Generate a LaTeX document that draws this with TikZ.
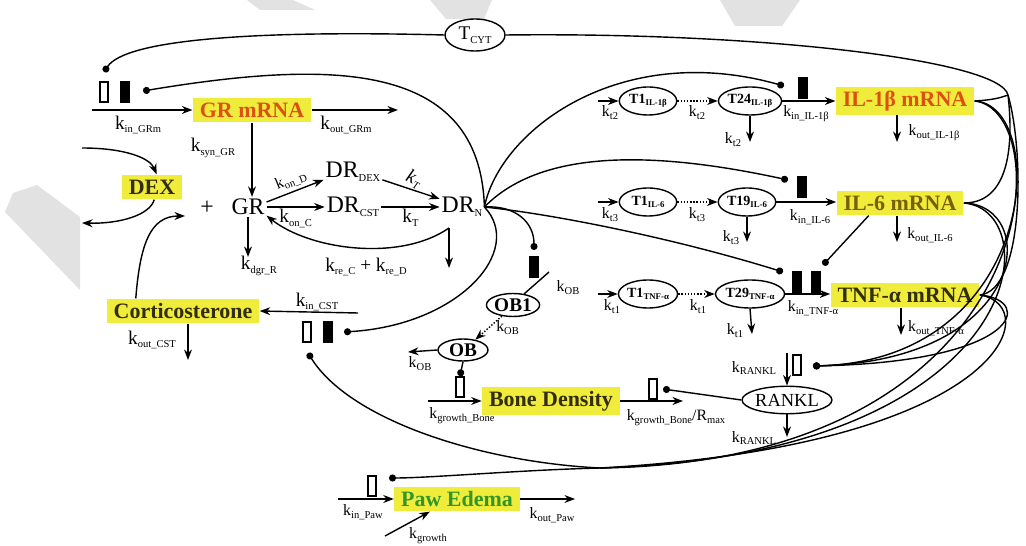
\documentclass[tikz,border=0pt]{standalone}
\usepackage{fontspec}
\setmainfont{Liberation Serif}
\usetikzlibrary{arrows.meta,shapes.geometric}

\definecolor{boxyellow}{RGB}{240,236,60}
\definecolor{txtorange}{RGB}{220,80,20}
\definecolor{txtolive}{RGB}{120,95,10}
\definecolor{txtdark}{RGB}{50,45,10}
\definecolor{txtgreen}{RGB}{50,150,40}
\definecolor{wmark}{RGB}{226,226,226}

\newcommand{\lowtxt}[1]{\raisebox{-0.4ex}{\fontsize{6}{6}\selectfont #1}}
\newcommand{\tinysub}[1]{\raisebox{-0.35ex}{\fontsize{5}{5}\selectfont #1}}

\tikzset{
  box/.style={fill=boxyellow, inner xsep=4pt, inner ysep=2pt, minimum height=14pt, font=\fontsize{12.5}{14}\selectfont\bfseries},
  spc/.style={inner sep=1pt, font=\fontsize{13.5}{15}\selectfont},
  rate/.style={inner sep=1pt, font=\fontsize{11}{12}\selectfont},
  srate/.style={inner sep=1pt, font=\fontsize{9}{10}\selectfont},
  stim/.style={draw, line width=0.8pt, minimum width=4.5pt, minimum height=11.5pt, inner sep=0pt},
  inhib/.style={fill=black, minimum width=6pt, minimum height=12pt, inner sep=0pt},
  trans/.style={draw, ellipse, line width=0.8pt, minimum width=1.15cm, minimum height=0.56cm, inner sep=0pt, font=\fontsize{8}{9}\selectfont\bfseries},
  flow/.style={-{Stealth[length=6pt,width=4.5pt]}, line width=0.8pt},
  act/.style={-{Circle[length=4pt]}, line width=0.8pt},
  wire/.style={line width=0.8pt},
}

\begin{document}
\begin{tikzpicture}[x=0.02cm,y=-0.02cm]
\useasboundingbox (0,0) rectangle (1026,546);

% faint marks behind the scheme
\fill[wmark] (5,212) -- (13,193) -- (37,185) -- (80,217) -- (80,290) -- cycle;
\fill[wmark] (247,0) -- (293,0) -- (315,10) -- (260,10) -- cycle;
\fill[wmark] (430,0) -- (492,0) -- (484,19) -- (446,19) -- cycle;
\fill[wmark] (720,0) -- (800,0) -- (782,26) -- (735,26) -- cycle;

% T cyt
\node[trans, minimum width=1.2cm, minimum height=0.64cm, font=\fontsize{11}{12}\selectfont] (Tcyt) at (475,35) {T\lowtxt{CYT}};

% GR mRNA
\node[stim] (sGRm) at (104,92) {};
\node[inhib] (iGRm) at (125,92) {};
\coordinate (dGRtop) at (104,72);
\coordinate (dGRm) at (143,91);
\node[box, text=txtorange] (GRm) at (252,110) {GR mRNA};
\coordinate (inGRm) at (92,110);
\coordinate (outGRm) at (398,110);
\draw[flow] (inGRm) -- (GRm);
\draw[flow] (GRm) -- (outGRm);
\node[rate] (lkinGRm) at (138,125) {k\lowtxt{in\_GRm}};
\node[rate] (lkoutGRm) at (346,125) {k\lowtxt{out\_GRm}};
\node[rate] (lksyn) at (213,148) {k\lowtxt{syn\_GR}};

% DEX, GR, receptor complexes
\node[box, text=txtdark] (DEX) at (152,187) {DEX};
\coordinate (dexIn) at (82,148);
\coordinate (dexOut) at (82,223);
\draw[flow] (dexIn) .. controls (125,148) and (150,158) .. (DEX.70);
\draw[flow] (DEX.-80) .. controls (150,215) and (120,224) .. (dexOut);
\node[spc] (plus) at (207,208) {+};
\node[spc] (GR) at (248,207) {GR};
\node[spc] (DRdex) at (353,172) {DR\lowtxt{DEX}};
\node[spc] (DRcst) at (353,207) {DR\lowtxt{CST}};
\node[spc] (DRn) at (462,207) {DR\lowtxt{N}};
\draw[flow] (GRm.south) -- (GRm.south |- GR.north);
\draw[flow] (GR.15) -- (DRdex.195);
\node[srate, rotate=22] (lkonD) at (291,181) {k\lowtxt{on\_D}};
\draw[flow] (GR.east) -- node[rate, below] (lkonC) {k\lowtxt{on\_C}} (DRcst.west);
\draw[flow] (DRcst.east) -- node[rate, below] (lkT) {k\lowtxt{T}} (DRn.west);
\draw[flow] (DRdex.-15) -- (DRn.160);
\node[rate, rotate=-25] (lkTi) at (414,179) {\textit{k}\lowtxt{\textit{T}}};
\coordinate (reC) at (449,228);
\coordinate (reEnd) at (449,268);
\draw[flow] (reC) .. controls (400,262) and (310,250) .. (GR.-25);
\draw[flow] (reC) -- (reEnd);
\node[rate] (lkre) at (366,267) {k\lowtxt{re\_C} + k\lowtxt{re\_D}};
\coordinate (dgrEnd) at (248,257);
\draw[flow] (GR.south) -- (dgrEnd);
\node[rate] (lkdgr) at (259,266) {k\lowtxt{dgr\_R}};

% corticosterone
\node[box, text=txtdark] (Cort) at (183,311) {Corticosterone};
\coordinate (toGR) at (185,216);
\draw[flow] (Cort.165) .. controls (140,245) and (150,216) .. (toGR);
\coordinate (inCst) at (358,313);
\draw[flow] (inCst) -- (Cort.east);
\node[rate] (lkinCst) at (317,302) {k\lowtxt{in\_CST}};
\coordinate (outCst) at (188,360);
\draw[flow] (Cort.south -| outCst) -- (outCst);
\node[rate] (lkoutCst) at (152,340) {k\lowtxt{out\_CST}};
\node[stim] (sCst) at (307,332) {};
\node[inhib] (iCst) at (328,332) {};
\coordinate (dCst) at (344,332);
\coordinate (dCstB) at (308,353);

% osteoblasts
\node[inhib] (iOB) at (534,267) {};
\coordinate (dOB) at (534,250);
\node[trans, minimum width=1.06cm, minimum height=0.46cm, font=\fontsize{11}{12}\selectfont\bfseries] (OB1) at (513,305) {OB1};
\node[trans, minimum width=1.0cm, minimum height=0.44cm, font=\fontsize{11}{12}\selectfont\bfseries] (OB) at (463,350) {OB};
\coordinate (kOBend) at (549,272);
\draw[wire] (OB1.45) -- (kOBend);
\node[srate] (lkOB1) at (568,288) {k\lowtxt{OB}};
\draw[flow, densely dotted] (OB1.225) -- node[srate, right=3pt] (lkOB2) {k\lowtxt{OB}} (OB.40);
\coordinate (outOB) at (408,352);
\draw[flow] (OB.west) -- (outOB);
\node[srate] (lkOB3) at (420,364) {k\lowtxt{OB}};

% bone density
\node[stim] (sBone) at (460,387) {};
\draw[act] (OB.south) -- (sBone.north);
\node[box, text=txtdark] (Bone) at (551,401) {Bone Density};
\coordinate (inBone) at (428,401);
\draw[flow] (inBone) -- (Bone.west);
\node[srate] (lkgB) at (462,416) {k\lowtxt{growth\_Bone}};
\coordinate (outBone) at (683,401);
\draw[flow] (Bone.east) -- (outBone);
\node[srate] (lkgBR) at (676,418) {k\lowtxt{growth\_Bone}/R\lowtxt{max}};
\node[stim] (sRk) at (653,389) {};
\coordinate (dRkB) at (663,389);

% RANKL
\node[trans, minimum width=1.7cm, minimum height=0.55cm, font=\fontsize{10.5}{12}\selectfont] (RANKL) at (787,400) {RANKL};
\draw[act] (RANKL.west) -- (dRkB);
\coordinate (inRk) at (787,353);
\draw[flow] (inRk) -- (RANKL.north);
\node[srate] (lkRk1) at (754,368) {k\lowtxt{RANKL}};
\node[stim] (sRk2) at (797,365) {};
\coordinate (dRk) at (813,366);
\coordinate (outRk) at (787,437);
\draw[flow] (RANKL.south) -- (outRk);
\node[srate] (lkRk2) at (754,438) {k\lowtxt{RANKL}};

% paw edema
\node[box, text=txtgreen] (Paw) at (457,499) {Paw Edema};
\coordinate (inPaw) at (338,499);
\draw[flow] (inPaw) -- (Paw.west);
\node[srate] (lkinPaw) at (363,512) {k\lowtxt{in\_Paw}};
\node[stim] (sPaw) at (372,486) {};
\coordinate (dPaw) at (389,478);
\coordinate (outPaw) at (575,499);
\draw[flow] (Paw.east) -- (outPaw);
\node[srate] (lkoutPaw) at (552,515) {k\lowtxt{out\_Paw}};
\coordinate (gPaw) at (385,536);
\draw[flow] (gPaw) -- (Paw.-155);
\node[srate] (lkg) at (428,536) {k\lowtxt{growth}};

% IL-1beta chain
\coordinate (in1) at (598,101);
\node[trans] (T1a) at (648,101) {T1\tinysub{IL-1β}};
\node[trans] (T24) at (750,101) {T24\tinysub{IL-1β}};
\node[box, text=txtorange] (IL1) at (905,101) {IL-1β mRNA};
\draw[flow] (in1) -- (T1a);
\draw[flow, densely dotted] (T1a) -- (T24);
\draw[flow] (T24) -- (IL1);
\node[srate] (lkt2a) at (610,113) {k\lowtxt{t2}};
\node[srate] (lkt2b) at (697,113) {k\lowtxt{t2}};
\coordinate (o1) at (750,142);
\draw[flow] (T24.south) -- (o1);
\node[srate] (lkt2c) at (733,140) {k\lowtxt{t2}};
\node[srate] (lkin1) at (806,114) {k\lowtxt{in\_IL-1β}};
\node[inhib] (iIL1) at (803,88) {};
\coordinate (dIL1) at (784,86);
\coordinate (oo1) at (897,142);
\draw[flow] (IL1.south -| oo1) -- (oo1);
\node[srate] (lkout1) at (934,133) {k\lowtxt{out\_IL-1β}};

% IL-6 chain
\coordinate (in2) at (598,202);
\node[trans] (T1b) at (648,202) {T1\tinysub{IL-6}};
\node[trans] (T19) at (747,202) {T19\tinysub{IL-6}};
\node[box, text=txtolive] (IL6) at (900,203) {IL-6 mRNA};
\draw[flow] (in2) -- (T1b);
\draw[flow, densely dotted] (T1b) -- (T19);
\draw[flow] (T19) -- (IL6.west |- T19);
\node[srate] (lkt3a) at (610,215) {k\lowtxt{t3}};
\node[srate] (lkt3b) at (697,215) {k\lowtxt{t3}};
\coordinate (o2) at (747,242);
\draw[flow] (T19.south) -- (o2);
\node[srate] (lkt3c) at (731,238) {k\lowtxt{t3}};
\node[srate] (lkin2) at (810,217) {k\lowtxt{in\_IL-6}};
\node[inhib] (iIL6) at (802,187) {};
\coordinate (dIL6) at (788,180);
\coordinate (oo2) at (897,242);
\draw[flow] (IL6.south -| oo2) -- (oo2);
\node[srate] (lkout2) at (930,235) {k\lowtxt{out\_IL-6}};

% TNF-alpha chain
\coordinate (in3) at (598,294);
\node[trans] (T1c) at (648,294) {T1\tinysub{TNF-α}};
\node[trans] (T29) at (750,294) {T29\tinysub{TNF-α}};
\node[box, text=txtdark] (TNF) at (905,295) {TNF-α mRNA};
\draw[flow] (in3) -- (T1c);
\draw[flow, densely dotted] (T1c) -- (T29);
\draw[flow] (T29) -- (TNF.west |- T29);
\node[srate] (lkt1a) at (612,307) {k\lowtxt{t1}};
\node[srate] (lkt1b) at (698,307) {k\lowtxt{t1}};
\coordinate (o3) at (752,334);
\draw[flow] (T29.south) -- (o3);
\node[srate] (lkt1c) at (735,331) {k\lowtxt{t1}};
\node[srate] (lkin3) at (813,308) {k\lowtxt{in\_TNF-α}};
\node[inhib] (iTNFa) at (797,282) {};
\node[inhib] (iTNFb) at (816,282) {};
\coordinate (dTNF) at (783,272);
\coordinate (dIL6b) at (823,265);
\coordinate (oo3) at (901,335);
\draw[flow] (TNF.south -| oo3) -- (oo3);
\node[srate] (lkout3) at (936,328) {k\lowtxt{out\_TNF-α}};
\draw[act] (IL6.-158) -- (dIL6b);

% DR_N effects
\draw[act] (DRn.east) .. controls (480,60) and (330,60) .. (dGRm);
\draw[act] (DRn.east) .. controls (500,130) and (620,40) .. (dIL1);
\draw[act] (DRn.east) .. controls (540,150) and (650,150) .. (dIL6);
\draw[act] (DRn.east) .. controls (560,215) and (680,240) .. (dTNF);
\draw[act] (DRn.east) .. controls (515,205) and (534,222) .. (dOB);
\draw[act] (DRn.east) .. controls (525,250) and (460,325) .. (dCst);

% cytokines through T cyt
\coordinate (jA) at (1008,95);
\draw[act] (Tcyt.west) .. controls (250,30) and (125,40) .. (dGRtop);
\draw[wire] (Tcyt.east) .. controls (760,32) and (1000,60) .. (jA);
\draw[wire] (IL1.east) .. controls (992,100) and (1000,98) .. (jA);
\draw[wire] (IL6.east) .. controls (1015,203) and (1012,130) .. (jA);
\draw[wire] (TNF.east) .. controls (1025,290) and (1024,150) .. (jA);

% cytokines to RANKL
\draw[act] (TNF.east) .. controls (1035,300) and (1020,362) .. (dRk);
\draw[act] (IL6.east) .. controls (1040,205) and (1030,360) .. (dRk);
\draw[act] (IL1.east) .. controls (1050,105) and (1040,360) .. (dRk);

% cytokines to corticosterone and paw edema
\coordinate (jC) at (600,468);
\draw[wire] (TNF.east) .. controls (1045,305) and (1010,445) .. (jC);
\draw[wire] (IL6.east) .. controls (1050,210) and (1030,455) .. (jC);
\draw[wire] (IL1.east) .. controls (1060,110) and (1050,462) .. (jC);
\draw[act] (jC) .. controls (480,462) and (350,420) .. (dCstB);
\draw[act] (jC) .. controls (520,470) and (430,478) .. (dPaw);
\end{tikzpicture}
\end{document}
